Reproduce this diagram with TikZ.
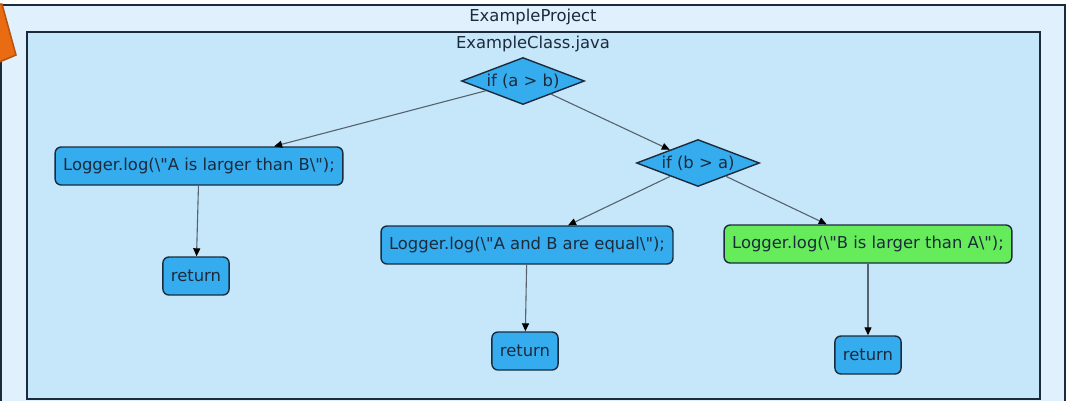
\documentclass[tikz,border=0pt]{standalone}
\usepackage{fontspec}
\setmainfont{DejaVu Sans}
\usepackage{tikz}
\usetikzlibrary{arrows.meta,shapes.geometric,positioning}

\definecolor{textcol}{HTML}{1C2B3C}
\definecolor{outerfill}{HTML}{E0F0FC}
\definecolor{innerfill}{HTML}{C6E6FA}
\definecolor{nodefill}{HTML}{35ACEE}
\definecolor{hitfill}{HTML}{66EC5A}
\definecolor{linecol}{HTML}{56626E}
\definecolor{orangefill}{HTML}{E96B12}
\definecolor{orangeline}{HTML}{B9520B}

\newcommand{\qt}{\textquotedbl}

\begin{document}
\begin{tikzpicture}[x=1pt,y=-1pt,->,>={Triangle[length=8pt,width=7pt,color=black]},
  every node/.style={text=textcol,font=\fontsize{16.4}{19}\selectfont},
  stmt/.style={draw=textcol,line width=1.4pt,fill=nodefill,rounded corners=6pt,
    inner xsep=8pt,minimum height=38pt},
  cond/.style={diamond,draw=textcol,line width=1.4pt,fill=nodefill,aspect=2.6,
    inner sep=0pt,minimum width=123pt,minimum height=47pt},
  flow/.style={draw=linecol,line width=1.1pt}]
  \useasboundingbox (0,0) rectangle (1074,400);
  % frames
  \draw[-,draw=textcol,line width=1.5pt,fill=outerfill] (1,5) rectangle (1065,440);
  \draw[-,draw=textcol,line width=1.5pt,fill=innerfill] (27,32) rectangle (1040,399);
  \draw[-,draw=orangeline,line width=1.5pt,fill=orangefill] (-10,4) -- (2,4) -- (16,55) -- (-10,66) -- cycle;
  \node (P) at (533,17) {ExampleProject};
  \node (K) at (533,44) {ExampleClass.java};
  % nodes
  \node[cond] (A) at (523,81) {if (a > b)};
  \node[stmt] (B) at (199,166) {Logger.log(\textbackslash\qt A is larger than B\textbackslash\qt);};
  \node[cond] (C) at (698,163) {if (b > a)};
  \node[stmt] (D) at (196,276) {return};
  \node[stmt] (E) at (527,245) {Logger.log(\textbackslash\qt A and B are equal\textbackslash\qt);};
  \node[stmt,fill=hitfill] (F) at (868,244) {Logger.log(\textbackslash\qt B is larger than A\textbackslash\qt);};
  \node[stmt] (G) at (525,351) {return};
  \node[stmt] (H) at (868,355) {return};
\path[flow] (A) edge node {} (B)
	  (A) edge node {} (C)
	  (C) edge node {} (E)
	  (C) edge node {} (F)
	  (B) edge node {} (D)
	  (E) edge node {} (G)
	  (F) edge node {} (H);
\end{tikzpicture}
\end{document}
